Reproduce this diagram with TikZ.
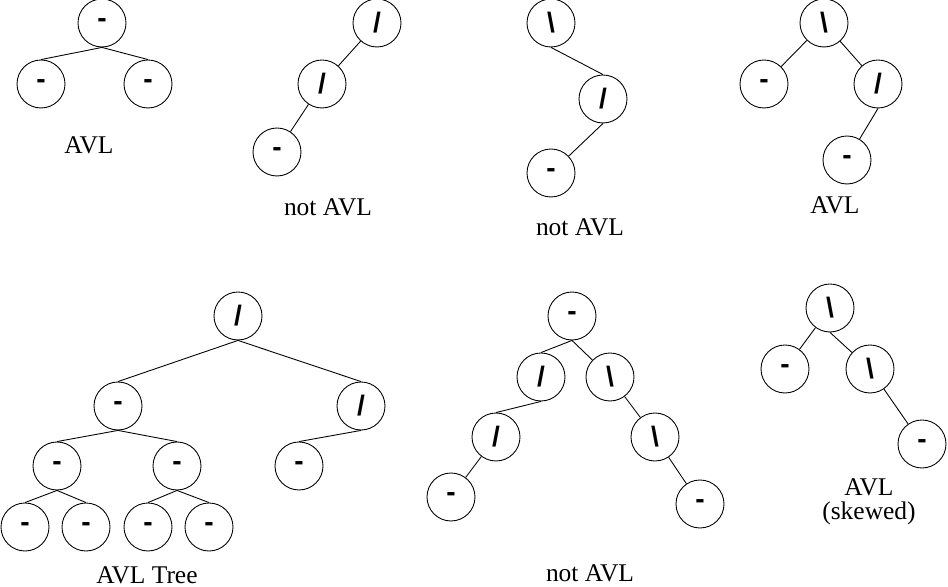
\documentclass[tikz,border=0pt]{standalone}
\usepackage{fontspec}
\setmainfont{Liberation Serif}
\newfontfamily\balfont{Liberation Sans}
\usetikzlibrary{positioning}

\begin{document}
\begin{tikzpicture}[x=0.02cm, y=-0.02cm,
  avl/.style={circle, draw, line width=0.5pt, minimum size=0.96cm, inner sep=0pt, font=\balfont\bfseries\fontsize{16}{16}\selectfont},
  lbl/.style={font=\fontsize{14.5}{13.5}\selectfont, align=center, inner sep=0pt},
  every path/.style={line width=0.5pt}]
  \useasboundingbox (0,0) rectangle (948,587);

  \node[avl] (a) at (102,23) {-};
  \node[avl] (al) at (41,84) {-};
  \node[avl] (ar) at (148,84) {-};
  \draw (a.south) -- (al.north);
  \draw (a.south) -- (ar.north);
  \node[lbl] (alab) at (89,145) {AVL};

  \node[avl] (b) at (377,23) {/};
  \node[avl] (bl) at (322,84) {/};
  \node[avl] (bll) at (277,152) {-};
  \draw (b) -- (bl);
  \draw (bl) -- (bll);
  \node[lbl] (blab) at (328,207) {not AVL};

  \node[avl] (c) at (551,23) {\textbackslash};
  \node[avl] (cr) at (603,99) {/};
  \node[avl] (crl) at (551,173) {-};
  \draw (c.south) -- (cr.north);
  \draw (cr.south) -- (crl);
  \node[lbl] (clab) at (580,227) {not AVL};

  \node[avl] (d) at (824,23) {\textbackslash};
  \node[avl] (dl) at (764,84) {-};
  \node[avl] (dr) at (878,84) {/};
  \node[avl] (drl) at (847,160) {-};
  \draw (d) -- (dl);
  \draw (d) -- (dr);
  \draw (dr.south) -- (drl);
  \node[lbl] (dlab) at (835,205) {AVL};

  \node[avl] (e) at (238,316) {/};
  \node[avl] (el) at (118,406) {-};
  \node[avl] (er) at (361,406) {/};
  \node[avl] (ell) at (57,466) {-};
  \node[avl] (elr) at (177,466) {-};
  \node[avl] (erl) at (299,466) {-};
  \node[avl] (elll) at (25,527) {-};
  \node[avl] (ellr) at (86,527) {-};
  \node[avl] (elrl) at (148,527) {-};
  \node[avl] (elrr) at (209,527) {-};
  \draw (e.south) -- (el.north);
  \draw (e.south) -- (er.north);
  \draw (el.south) -- (ell.north);
  \draw (el.south) -- (elr.north);
  \draw (er.south) -- (erl.north);
  \draw (ell.south) -- (elll.north);
  \draw (ell.south) -- (ellr.north);
  \draw (elr.south) -- (elrl.north);
  \draw (elr.south) -- (elrr.north);
  \node[lbl] (elab) at (147,575) {AVL Tree};

  \node[avl] (f) at (572,316) {-};
  \node[avl] (fl) at (541,377) {/};
  \node[avl] (fr) at (610,377) {\textbackslash};
  \node[avl] (fll) at (496,437) {/};
  \node[avl] (frr) at (655,437) {\textbackslash};
  \node[avl] (flll) at (451,497) {-};
  \node[avl] (frrr) at (700,504) {-};
  \draw (f.south) -- (fl.north);
  \draw (f.south) -- (fr);
  \draw (fl.south) -- (fll.north);
  \draw (fr) -- (frr);
  \draw (fll) -- (flll);
  \draw (frr) -- (frrr);
  \node[lbl] (flab) at (590,573) {not AVL};

  \node[avl] (g) at (830,308) {\textbackslash};
  \node[avl] (gl) at (785,369) {-};
  \node[avl] (gr) at (870,369) {\textbackslash};
  \node[avl] (grr) at (922,444) {-};
  \draw (g) -- (gl);
  \draw (g.south) -- (gr);
  \draw (gr) -- (grr);
  \node[lbl] (glab) at (869,502) {AVL\\(skewed)};
\end{tikzpicture}
\end{document}
